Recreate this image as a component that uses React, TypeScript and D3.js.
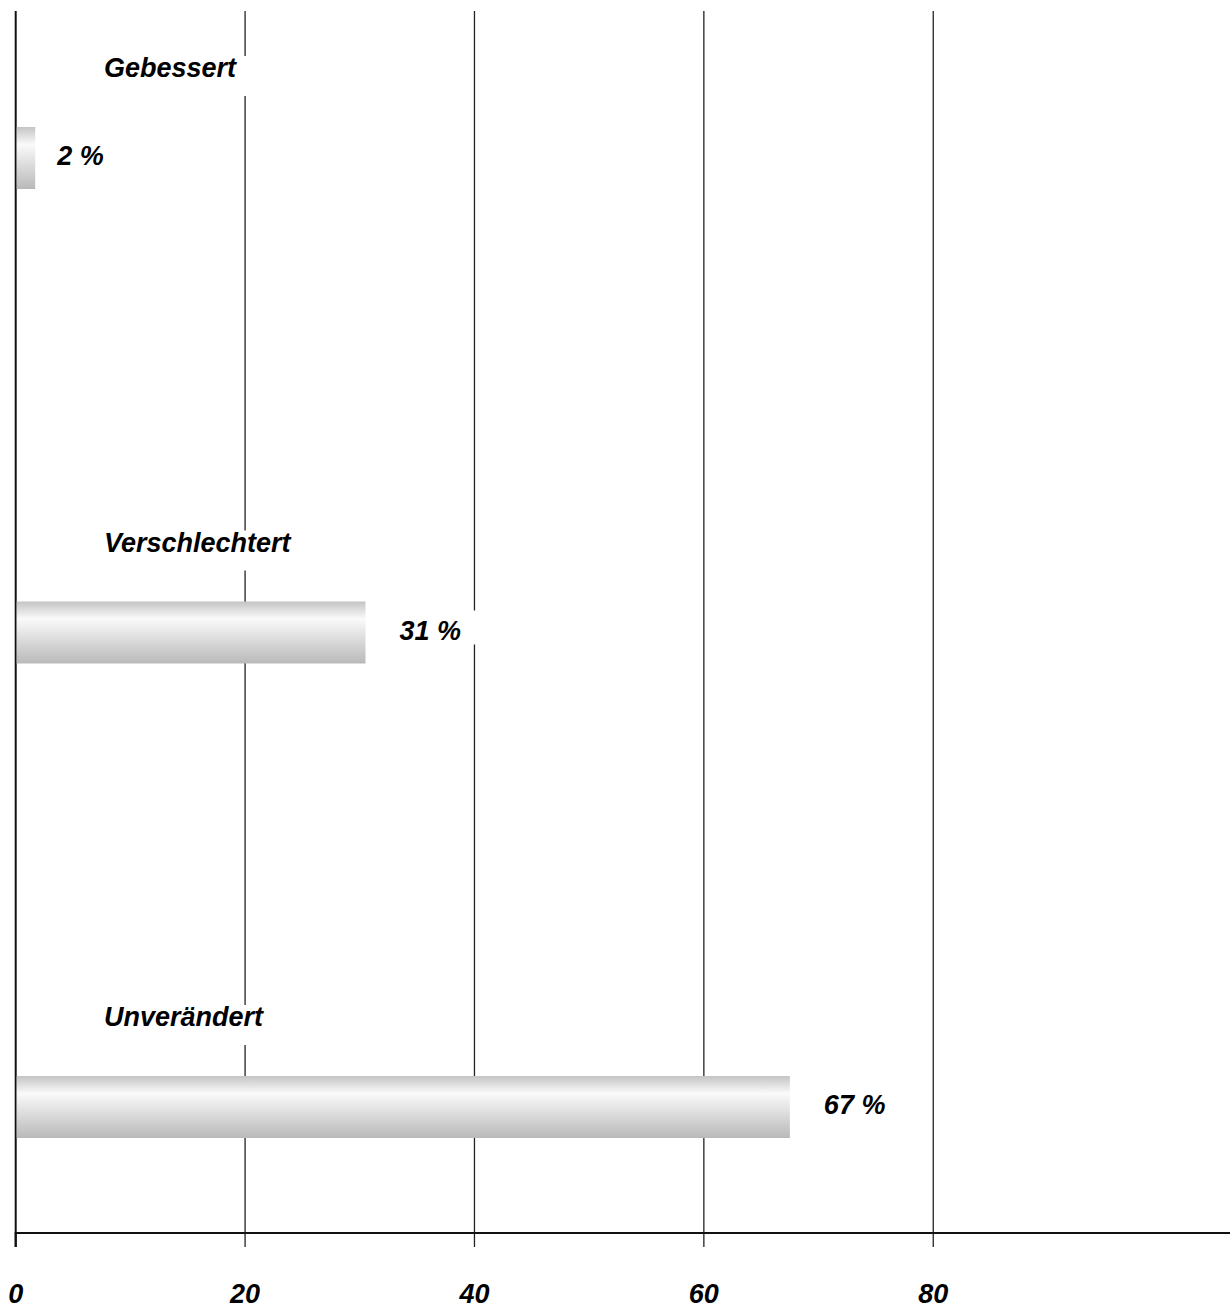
import React, { useEffect, useRef } from "react";
import * as d3 from "d3";

const categories = ["Gebessert", "Verschlechtert", "Unverändert"];
const values = [1.7, 30.5, 67.5];
const valueLabels = ["2 %", "31 %", "67 %"];
const ticks = [0, 20, 40, 60, 80];

const W = 1230;
const H = 1309;
const FONT = "'Liberation Sans', Arial, Helvetica, sans-serif";

export default function App() {
  const ref = useRef<SVGSVGElement>(null);

  useEffect(() => {
    const svg = d3.select(ref.current);
    svg.selectAll("*").remove();

    const x = d3.scaleLinear().domain([0, 105.7]).range([15.7, 1228]);
    const y = d3.scalePoint<string>().domain(categories).range([158, 1107]);
    const axisY = 1233;
    const top = 11;
    const barH = 62;

    const defs = svg.append("defs");
    const g = defs
      .append("linearGradient")
      .attr("id", "barGrad")
      .attr("x1", 0)
      .attr("y1", 0)
      .attr("x2", 0)
      .attr("y2", 1);
    g.append("stop").attr("offset", "0%").attr("stop-color", "#c4c4c4");
    g.append("stop").attr("offset", "28%").attr("stop-color", "#fafafa");
    g.append("stop").attr("offset", "100%").attr("stop-color", "#b9b9b9");

    // gridlines
    svg
      .append("g")
      .selectAll("line")
      .data(ticks.filter((t) => t > 0))
      .join("line")
      .attr("x1", (d) => x(d))
      .attr("x2", (d) => x(d))
      .attr("y1", top)
      .attr("y2", axisY + 14)
      .attr("stroke", "#222")
      .attr("stroke-width", 1.3);

    // left axis
    svg
      .append("line")
      .attr("x1", x(0))
      .attr("x2", x(0))
      .attr("y1", top)
      .attr("y2", axisY + 14)
      .attr("stroke", "#111")
      .attr("stroke-width", 2);

    // bars
    svg
      .append("g")
      .selectAll("rect")
      .data(values)
      .join("rect")
      .attr("x", x(0) + 1)
      .attr("y", (_, i) => (y(categories[i]) as number) - barH / 2)
      .attr("width", (d) => x(d) - x(0) - 1)
      .attr("height", barH)
      .attr("fill", "url(#barGrad)");

    const addLabel = (
      text: string,
      tx: number,
      ty: number,
      boxTop: number,
      boxBottom: number
    ) => {
      const grp = svg.append("g");
      const rect = grp.append("rect").attr("fill", "#fff");
      const t = grp
        .append("text")
        .attr("x", tx)
        .attr("y", ty)
        .attr("font-family", FONT)
        .attr("font-weight", "bold")
        .attr("font-style", "italic")
        .attr("font-size", 27)
        .attr("fill", "#000")
        .text(text);
      const bb = (t.node() as SVGTextElement).getBBox();
      rect
        .attr("x", bb.x - 4)
        .attr("y", ty - boxTop)
        .attr("width", bb.width + 20)
        .attr("height", boxTop + boxBottom);
    };

    categories.forEach((c, i) => {
      const cy = y(c) as number;
      addLabel(c, 104, cy - 81, 21, 19);
      const vx = i === 0 ? x(values[i]) + 22 : x(values[i]) + 34;
      addLabel(valueLabels[i], vx, cy + 7, 29, 5);
    });

    // x axis
    svg
      .append("line")
      .attr("x1", x(0) - 1)
      .attr("x2", 1230)
      .attr("y1", axisY)
      .attr("y2", axisY)
      .attr("stroke", "#111")
      .attr("stroke-width", 2.2);

    svg
      .append("g")
      .selectAll("line")
      .data([0])
      .join("line")
      .attr("x1", (d) => x(d))
      .attr("x2", (d) => x(d))
      .attr("y1", axisY)
      .attr("y2", axisY + 14)
      .attr("stroke", "#111")
      .attr("stroke-width", 2);

    svg
      .append("g")
      .selectAll("text")
      .data(ticks)
      .join("text")
      .attr("x", (d) => x(d))
      .attr("y", 1303)
      .attr("text-anchor", "middle")
      .attr("font-family", FONT)
      .attr("font-weight", "bold")
      .attr("font-style", "italic")
      .attr("font-size", 27)
      .attr("fill", "#000")
      .text((d) => String(d));
  }, []);

  return (
    <svg
      ref={ref}
      width={W}
      height={H}
      style={{ position: "absolute", left: 0, top: 0, display: "block", background: "#fff" }}
    />
  );
}
